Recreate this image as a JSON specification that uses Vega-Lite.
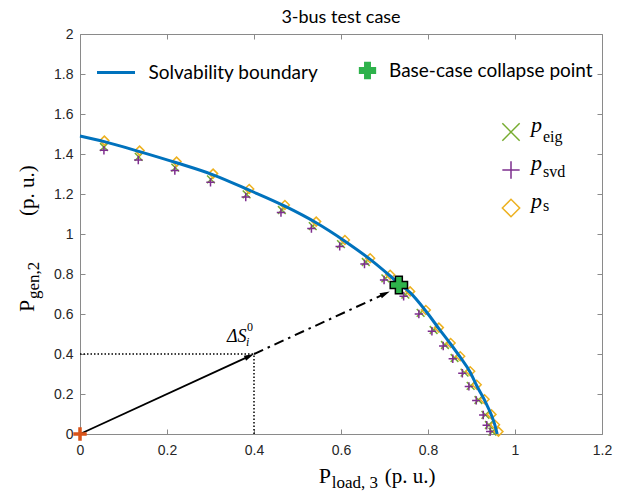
{
  "$schema": "https://vega.github.io/schema/vega-lite/v6.json",
  "width": 522,
  "height": 400,
  "autosize": {"type": "none"},
  "padding": {"left": 80, "top": 34, "right": 22, "bottom": 58},
  "title": {"text": "3-bus test case", "font": "Lato", "fontSize": 18, "fontWeight": "normal", "color": "#000000", "anchor": "middle", "offset": 0},
  "datasets": {
    "curve": [
      {"x": 0, "y": 1.49}, {"x": 0.056, "y": 1.462}, {"x": 0.137, "y": 1.412}, {"x": 0.222, "y": 1.356},
      {"x": 0.306, "y": 1.296}, {"x": 0.389, "y": 1.219}, {"x": 0.471, "y": 1.139}, {"x": 0.543, "y": 1.056},
      {"x": 0.609, "y": 0.964}, {"x": 0.667, "y": 0.873}, {"x": 0.713, "y": 0.79}, {"x": 0.733, "y": 0.752},
      {"x": 0.759, "y": 0.707}, {"x": 0.795, "y": 0.615}, {"x": 0.825, "y": 0.527}, {"x": 0.852, "y": 0.45},
      {"x": 0.874, "y": 0.384}, {"x": 0.897, "y": 0.309}, {"x": 0.912, "y": 0.241}, {"x": 0.93, "y": 0.169},
      {"x": 0.946, "y": 0.093}, {"x": 0.954, "y": 0.043}, {"x": 0.959, "y": 0}
    ],
    "markers": [
      {"series": "eig", "x": 0.055, "y": 1.435}, {"series": "eig", "x": 0.135, "y": 1.386}, {"series": "eig", "x": 0.219, "y": 1.332},
      {"series": "eig", "x": 0.301, "y": 1.273}, {"series": "eig", "x": 0.383, "y": 1.198}, {"series": "eig", "x": 0.464, "y": 1.12},
      {"series": "eig", "x": 0.535, "y": 1.039}, {"series": "eig", "x": 0.6, "y": 0.949}, {"series": "eig", "x": 0.657, "y": 0.86},
      {"series": "eig", "x": 0.702, "y": 0.778}, {"series": "eig", "x": 0.748, "y": 0.697}, {"series": "eig", "x": 0.783, "y": 0.606},
      {"series": "eig", "x": 0.813, "y": 0.52}, {"series": "eig", "x": 0.839, "y": 0.445}, {"series": "eig", "x": 0.861, "y": 0.38},
      {"series": "eig", "x": 0.884, "y": 0.307}, {"series": "eig", "x": 0.898, "y": 0.241}, {"series": "eig", "x": 0.916, "y": 0.17},
      {"series": "eig", "x": 0.932, "y": 0.096}, {"series": "eig", "x": 0.94, "y": 0.045}, {"series": "eig", "x": 0.948, "y": 0.012},
      {"series": "svd", "x": 0.055, "y": 1.419}, {"series": "svd", "x": 0.134, "y": 1.37}, {"series": "svd", "x": 0.218, "y": 1.317},
      {"series": "svd", "x": 0.3, "y": 1.259}, {"series": "svd", "x": 0.381, "y": 1.185}, {"series": "svd", "x": 0.462, "y": 1.107},
      {"series": "svd", "x": 0.532, "y": 1.027}, {"series": "svd", "x": 0.597, "y": 0.938}, {"series": "svd", "x": 0.654, "y": 0.85},
      {"series": "svd", "x": 0.699, "y": 0.77}, {"series": "svd", "x": 0.744, "y": 0.689}, {"series": "svd", "x": 0.779, "y": 0.6},
      {"series": "svd", "x": 0.809, "y": 0.514}, {"series": "svd", "x": 0.835, "y": 0.44}, {"series": "svd", "x": 0.857, "y": 0.376},
      {"series": "svd", "x": 0.879, "y": 0.304}, {"series": "svd", "x": 0.894, "y": 0.238}, {"series": "svd", "x": 0.911, "y": 0.168},
      {"series": "svd", "x": 0.927, "y": 0.095}, {"series": "svd", "x": 0.935, "y": 0.044}, {"series": "svd", "x": 0.943, "y": 0.012},
      {"series": "s", "x": 0.056, "y": 1.467}, {"series": "s", "x": 0.137, "y": 1.417}, {"series": "s", "x": 0.222, "y": 1.362},
      {"series": "s", "x": 0.306, "y": 1.302}, {"series": "s", "x": 0.389, "y": 1.225}, {"series": "s", "x": 0.471, "y": 1.145},
      {"series": "s", "x": 0.543, "y": 1.062}, {"series": "s", "x": 0.609, "y": 0.97}, {"series": "s", "x": 0.667, "y": 0.879},
      {"series": "s", "x": 0.713, "y": 0.796}, {"series": "s", "x": 0.759, "y": 0.713}, {"series": "s", "x": 0.795, "y": 0.62},
      {"series": "s", "x": 0.825, "y": 0.532}, {"series": "s", "x": 0.852, "y": 0.455}, {"series": "s", "x": 0.874, "y": 0.389},
      {"series": "s", "x": 0.897, "y": 0.314}, {"series": "s", "x": 0.912, "y": 0.246}, {"series": "s", "x": 0.93, "y": 0.174},
      {"series": "s", "x": 0.946, "y": 0.098}, {"series": "s", "x": 0.954, "y": 0.046}, {"series": "s", "x": 0.962, "y": 0.012}
    ],
    "segs": [
      {"seg": "hdot", "x": 0, "y": 0.4}, {"seg": "hdot", "x": 0.4, "y": 0.4},
      {"seg": "vdot", "x": 0.4, "y": 0}, {"seg": "vdot", "x": 0.4, "y": 0.4},
      {"seg": "solid", "x": 0, "y": 0}, {"seg": "solid", "x": 0.3896, "y": 0.3895},
      {"seg": "dashdot", "x": 0.4, "y": 0.4}, {"seg": "dashdot", "x": 0.7016, "y": 0.7015}
    ],
    "heads": [{"x": 0.3896, "y": 0.3895}, {"x": 0.7016, "y": 0.7015}],
    "origin": [{"x": 0, "y": 0}],
    "collapse": [{"x": 0.733, "y": 0.745}],
    "annot": [{"x": 0.338, "y": 0.4615}],
    "xtitle": [{"x": 0.549, "y": -0.245}],
    "ytitle": [{"x": -0.1057, "y": 0.61}]
  },
  "layer": [
    {
      "data": {"name": "markers"},
      "mark": {"type": "point", "filled": false, "strokeWidth": 1.5, "opacity": 1},
      "encoding": {
        "x": {"field": "x", "type": "quantitative", "scale": {"domain": [0, 1.2], "nice": false, "zero": false},
              "axis": {"orient": "bottom", "values": [0, 0.2, 0.4, 0.6, 0.8, 1, 1.2], "format": "~g", "title": null}},
        "y": {"field": "y", "type": "quantitative", "scale": {"domain": [0, 2], "nice": false, "zero": false},
              "axis": {"orient": "left", "values": [0, 0.2, 0.4, 0.6, 0.8, 1, 1.2, 1.4, 1.6, 1.8, 2], "format": "~g", "title": null}},
        "shape": {"field": "series", "type": "nominal",
                  "scale": {"domain": ["eig", "svd", "s"], "range": ["M-1,-1L1,1M-1,1L1,-1", "M-1,0L1,0M0,-1L0,1", "diamond"]},
                  "legend": {"orient": "none", "legendX": 420, "legendY": 87, "title": null, "labelExpr": "'p'",
                             "labelFont": "Liberation Serif", "labelFontStyle": "italic", "labelFontSize": 22, "labelColor": "#000000",
                             "labelBaseline": "alphabetic", "labelOffset": 9, "symbolSize": 300, "symbolStrokeWidth": 1.5,
                             "rowPadding": 8, "padding": 0,
                             "encode": {"symbols": {"update": {"size": {"signal": "datum.value === 's' ? 300 : datum.value === 'svd' ? 150 : 75"}}}}}},
        "color": {"field": "series", "type": "nominal",
                  "scale": {"domain": ["eig", "svd", "s"], "range": ["#77AC30", "#7E2F8E", "#EDB120"]},
                  "legend": {"orient": "none", "legendX": 420, "legendY": 87, "title": null, "labelExpr": "'p'",
                             "labelFont": "Liberation Serif", "labelFontStyle": "italic", "labelFontSize": 22, "labelColor": "#000000",
                             "labelBaseline": "alphabetic", "labelOffset": 9, "symbolSize": 300, "symbolStrokeWidth": 1.5,
                             "rowPadding": 8, "padding": 0,
                             "encode": {"symbols": {"update": {"size": {"signal": "datum.value === 's' ? 300 : datum.value === 'svd' ? 150 : 75"}}}}}},
        "size": {"field": "series", "type": "nominal", "scale": {"domain": ["eig", "svd", "s"], "range": [60, 80, 125]}, "legend": null},
        "opacity": {"field": "series", "type": "ordinal", "sort": ["eig", "svd", "s"], "scale": {"range": [1, 1]},
                    "legend": {"orient": "none", "legendX": 436, "legendY": 99, "title": null,
                               "labelFont": "Liberation Serif", "labelFontSize": 16, "labelColor": "#000000",
                               "labelBaseline": "alphabetic", "labelOffset": 9, "symbolSize": 300, "symbolOpacity": 0,
                               "symbolStrokeColor": "transparent", "symbolFillColor": "transparent", "symbolStrokeWidth": 0,
                               "rowPadding": 12.5, "padding": 0,
                               "encode": {"symbols": {"update": {"opacity": {"value": 0}, "stroke": {"value": "transparent"}, "fill": {"value": "transparent"}}}}}}
      }
    },
    {
      "data": {"name": "curve"},
      "mark": {"type": "line", "strokeWidth": 3, "interpolate": "monotone"},
      "encoding": {
        "x": {"field": "x", "type": "quantitative", "scale": {"domain": [0, 1.2], "nice": false, "zero": false},
              "axis": {"orient": "top", "values": [0, 0.2, 0.4, 0.6, 0.8, 1, 1.2], "labels": false, "title": null}},
        "y": {"field": "y", "type": "quantitative", "scale": {"domain": [0, 2], "nice": false, "zero": false},
              "axis": {"orient": "right", "values": [0, 0.2, 0.4, 0.6, 0.8, 1, 1.2, 1.4, 1.6, 1.8, 2], "labels": false, "title": null}},
        "color": {"datum": "Solvability boundary", "type": "nominal", "scale": {"range": ["#0072BD"]},
                  "legend": {"orient": "none", "legendX": 15.5, "legendY": 18, "title": null, "symbolType": "stroke",
                             "symbolSize": 1444, "symbolStrokeWidth": 3, "labelFont": "Lato", "labelFontSize": 19,
                             "labelColor": "#000000", "labelOffset": 12, "padding": 0}}
      }
    },
    {
      "data": {"name": "segs"},
      "transform": [{"filter": "datum.seg === 'hdot' || datum.seg === 'vdot'"}],
      "mark": {"type": "line", "color": "#000000", "strokeWidth": 1.5, "strokeDash": [1.5, 2]},
      "encoding": {
        "x": {"field": "x", "type": "quantitative", "axis": null},
        "y": {"field": "y", "type": "quantitative", "axis": null},
        "detail": {"field": "seg"}
      }
    },
    {
      "data": {"name": "segs"},
      "transform": [{"filter": "datum.seg === 'solid'"}],
      "mark": {"type": "line", "color": "#000000", "strokeWidth": 1.8},
      "encoding": {
        "x": {"field": "x", "type": "quantitative", "axis": null},
        "y": {"field": "y", "type": "quantitative", "axis": null}
      }
    },
    {
      "data": {"name": "segs"},
      "transform": [{"filter": "datum.seg === 'dashdot'"}],
      "mark": {"type": "line", "color": "#000000", "strokeWidth": 2, "strokeDash": [10, 5, 2.5, 5]},
      "encoding": {
        "x": {"field": "x", "type": "quantitative", "axis": null},
        "y": {"field": "y", "type": "quantitative", "axis": null}
      }
    },
    {
      "data": {"name": "heads"},
      "mark": {"type": "point", "shape": "M1,0L-1,-0.55L-1,0.55Z", "filled": true, "color": "#000000", "size": 100, "angle": 335.3, "opacity": 1},
      "encoding": {
        "x": {"field": "x", "type": "quantitative", "axis": null},
        "y": {"field": "y", "type": "quantitative", "axis": null}
      }
    },
    {
      "data": {"name": "origin"},
      "mark": {"type": "point", "shape": "M-1,0L1,0M0,-1L0,1", "filled": false, "stroke": "#D95319", "strokeWidth": 3.5, "size": 180, "opacity": 1},
      "encoding": {
        "x": {"field": "x", "type": "quantitative", "axis": null},
        "y": {"field": "y", "type": "quantitative", "axis": null}
      }
    },
    {
      "data": {"name": "collapse"},
      "mark": {"type": "point", "filled": true, "fill": "#2eb24b", "stroke": "#000000", "strokeWidth": 1.5, "size": 300, "opacity": 1},
      "encoding": {
        "x": {"field": "x", "type": "quantitative", "axis": null},
        "y": {"field": "y", "type": "quantitative", "axis": null},
        "shape": {"datum": "Base-case collapse point", "type": "nominal", "scale": {"range": ["cross"]},
                  "legend": {"orient": "none", "legendX": 278, "legendY": 27, "title": null, "symbolSize": 300,
                             "symbolFillColor": "#2eb24b", "symbolStrokeColor": "#000000", "symbolStrokeWidth": 1.5,
                             "labelFont": "Lato", "labelFontSize": 19, "labelColor": "#000000", "labelOffset": 12, "padding": 0}}
      }
    },
    {
      "data": {"name": "annot"},
      "mark": {"type": "text", "text": "ΔS", "font": "Liberation Serif", "fontStyle": "italic", "fontSize": 18, "align": "left", "baseline": "alphabetic", "color": "#000000"},
      "encoding": {"x": {"field": "x", "type": "quantitative", "axis": null}, "y": {"field": "y", "type": "quantitative", "axis": null}}
    },
    {
      "data": {"name": "annot"},
      "mark": {"type": "text", "text": "0", "font": "Liberation Serif", "fontSize": 12, "align": "left", "baseline": "alphabetic", "dx": 20, "dy": -11, "color": "#000000"},
      "encoding": {"x": {"field": "x", "type": "quantitative", "axis": null}, "y": {"field": "y", "type": "quantitative", "axis": null}}
    },
    {
      "data": {"name": "annot"},
      "mark": {"type": "text", "text": "i", "font": "Liberation Serif", "fontStyle": "italic", "fontSize": 12, "align": "left", "baseline": "alphabetic", "dx": 19, "dy": 4, "color": "#000000"},
      "encoding": {"x": {"field": "x", "type": "quantitative", "axis": null}, "y": {"field": "y", "type": "quantitative", "axis": null}}
    },
    {
      "data": {"name": "xtitle"},
      "mark": {"type": "text", "text": "P", "font": "Liberation Serif", "fontSize": 22, "align": "left", "baseline": "alphabetic", "color": "#000000"},
      "encoding": {"x": {"field": "x", "type": "quantitative", "axis": null}, "y": {"field": "y", "type": "quantitative", "axis": null}}
    },
    {
      "data": {"name": "xtitle"},
      "mark": {"type": "text", "text": "load, 3", "font": "Liberation Serif", "fontSize": 17, "align": "left", "baseline": "alphabetic", "dx": 13, "dy": 5, "color": "#000000"},
      "encoding": {"x": {"field": "x", "type": "quantitative", "axis": null}, "y": {"field": "y", "type": "quantitative", "axis": null}}
    },
    {
      "data": {"name": "xtitle"},
      "mark": {"type": "text", "text": "(p. u.)", "font": "Liberation Serif", "fontSize": 21, "align": "left", "baseline": "alphabetic", "dx": 66, "color": "#000000"},
      "encoding": {"x": {"field": "x", "type": "quantitative", "axis": null}, "y": {"field": "y", "type": "quantitative", "axis": null}}
    },
    {
      "data": {"name": "ytitle"},
      "mark": {"type": "text", "text": "P", "font": "Liberation Serif", "fontSize": 22, "align": "left", "baseline": "alphabetic", "angle": 270, "color": "#000000"},
      "encoding": {"x": {"field": "x", "type": "quantitative", "axis": null}, "y": {"field": "y", "type": "quantitative", "axis": null}}
    },
    {
      "data": {"name": "ytitle"},
      "mark": {"type": "text", "text": "gen,2", "font": "Liberation Serif", "fontSize": 17, "align": "left", "baseline": "alphabetic", "angle": 270, "dx": 13, "dy": 5, "color": "#000000"},
      "encoding": {"x": {"field": "x", "type": "quantitative", "axis": null}, "y": {"field": "y", "type": "quantitative", "axis": null}}
    },
    {
      "data": {"name": "ytitle"},
      "mark": {"type": "text", "text": "(p. u.)", "font": "Liberation Serif", "fontSize": 21, "align": "left", "baseline": "alphabetic", "angle": 270, "dx": 96, "color": "#000000"},
      "encoding": {"x": {"field": "x", "type": "quantitative", "axis": null}, "y": {"field": "y", "type": "quantitative", "axis": null}}
    }
  ],
  "resolve": {
    "scale": {"color": "independent", "shape": "independent"},
    "legend": {"color": "independent", "shape": "independent"},
    "axis": {"x": "independent", "y": "independent"}
  },
  "config": {
    "view": {"stroke": null},
    "axis": {"domainColor": "#8a8a8a", "tickColor": "#8a8a8a", "tickSize": -5, "domainWidth": 1, "tickWidth": 1,
             "labelFont": "Liberation Sans", "labelFontSize": 14, "labelColor": "#262626", "grid": false,
             "labelFlush": false, "labelOverlap": false, "labelPadding": 14},
    "axisY": {"labelPadding": 12},
    "legend": {"labelLimit": 400}
  }
}
